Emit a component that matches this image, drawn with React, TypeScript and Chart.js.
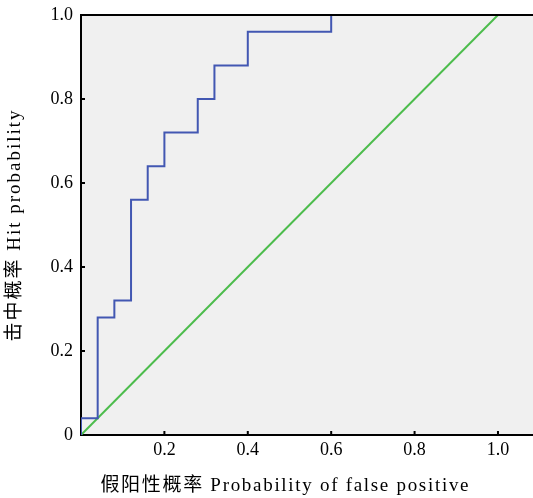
import React, { useEffect, useRef } from "react";
import { Chart, registerables } from "chart.js";

Chart.register(...registerables);

// ROC curve (step points): false positive rate vs hit rate
const rocFpr = [0, 0, 0.04, 0.04, 0.08, 0.08, 0.12, 0.12, 0.16, 0.16, 0.2, 0.2, 0.28, 0.28, 0.32, 0.32, 0.4, 0.4, 0.6, 0.6, 1.0];
const rocTpr = [0, 0.04, 0.04, 0.28, 0.28, 0.32, 0.32, 0.56, 0.56, 0.64, 0.64, 0.72, 0.72, 0.8, 0.8, 0.88, 0.88, 0.96, 0.96, 1.0, 1.0];
// Chance diagonal
const diagX = [0, 1];
const diagY = [0, 1];

const xTicks = [0, 0.2, 0.4, 0.6, 0.8, 1.0];
const yTicks = [0, 0.2, 0.4, 0.6, 0.8, 1.0];
const xTitle = "假阳性概率 Probability of false positive";
const yTitle = "击中概率 Hit probability";

const FONT = "'Liberation Serif', 'Noto Sans CJK SC', serif";

const fmt = (v: number) => (v === 0 ? "0" : v.toFixed(1));

const framePlugin = {
  id: "frame",
  beforeDraw(chart: any) {
    const { ctx, chartArea } = chart;
    ctx.save();
    ctx.fillStyle = "#f0f0f0";
    ctx.fillRect(chartArea.left, chartArea.top, chartArea.right - chartArea.left, chartArea.bottom - chartArea.top);
    ctx.restore();
  },
  afterDraw(chart: any) {
    const { ctx, chartArea, scales } = chart;
    ctx.save();
    ctx.strokeStyle = "#000";
    ctx.lineWidth = 2;
    ctx.beginPath();
    ctx.moveTo(chartArea.left - 1, chartArea.top);
    ctx.lineTo(chartArea.right, chartArea.top);
    ctx.stroke();
    ctx.beginPath();
    xTicks.forEach((v) => {
      if (v === 0) return;
      const px = scales.x.getPixelForValue(v);
      ctx.moveTo(px, chartArea.bottom);
      ctx.lineTo(px, chartArea.bottom - 4);
    });
    yTicks.forEach((v) => {
      if (v === 0 || v === 1) return;
      const py = scales.y.getPixelForValue(v);
      ctx.moveTo(chartArea.left, py);
      ctx.lineTo(chartArea.left + 4, py);
    });
    ctx.stroke();

    // axis titles (drawn here so letter spacing can be applied)
    ctx.fillStyle = "#000";
    ctx.font = `19px ${FONT}`;
    (ctx as any).letterSpacing = "1.7px";
    ctx.textAlign = "center";
    ctx.textBaseline = "middle";
    const xc = scales.x.getPixelForValue(0.49);
    ctx.fillText(xTitle, xc, chartArea.bottom + 51);
    ctx.save();
    ctx.translate(chartArea.left - 66, (chartArea.top + chartArea.bottom) / 2);
    ctx.rotate(-Math.PI / 2);
    (ctx as any).letterSpacing = "2px";
    ctx.fillText(yTitle, 0, 0);
    ctx.restore();
    ctx.restore();
  },
};

export default function App() {
  const ref = useRef<HTMLCanvasElement | null>(null);
  useEffect(() => {
    if (!ref.current) return;
    const chart = new Chart(ref.current, {
      type: "scatter",
      data: {
        datasets: [
          {
            data: rocFpr.map((x, i) => ({ x, y: rocTpr[i] })),
            showLine: true,
            borderColor: "#4257b2",
            borderWidth: 2,
            pointRadius: 0,
            fill: false,
          },
          {
            data: diagX.map((x, i) => ({ x, y: diagY[i] })),
            showLine: true,
            borderColor: "#4cbc4c",
            borderWidth: 2,
            pointRadius: 0,
            fill: false,
          },
        ],
      },
      options: {
        animation: false,
        responsive: false,
        maintainAspectRatio: false,
        layout: { padding: { top: 15, right: 0, left: 0, bottom: 0 } },
        plugins: { legend: { display: false }, tooltip: { enabled: false } },
        scales: {
          x: {
            type: "linear",
            min: 0,
            max: 1.084,
            afterBuildTicks: (s: any) => {
              s.ticks = xTicks.map((value) => ({ value }));
            },
            afterFit: (s: any) => {
              s.height = 63;
              s.paddingLeft = 0;
              s.paddingRight = 0;
            },
            grid: { display: false, drawTicks: false },
            border: { display: true, color: "#000", width: 2 },
            ticks: {
              padding: 4,
              color: "#000",
              font: { family: FONT, size: 18 },
              callback: (v: any) => (Number(v) === 0 ? "" : fmt(Number(v))),
              maxRotation: 0,
              autoSkip: false,
            },
            title: { display: false, text: xTitle },
          },
          y: {
            type: "linear",
            min: 0,
            max: 1,
            afterBuildTicks: (s: any) => {
              s.ticks = yTicks.map((value) => ({ value }));
            },
            afterFit: (s: any) => {
              s.width = 81;
              s.paddingTop = 0;
              s.paddingBottom = 0;
            },
            grid: { display: false, drawTicks: false },
            border: { display: true, color: "#000", width: 2 },
            ticks: {
              padding: 8,
              color: "#000",
              font: { family: FONT, size: 18 },
              callback: (v: any) => fmt(Number(v)),
              autoSkip: false,
            },
            title: { display: false, text: yTitle },
          },
        },
      },
      plugins: [framePlugin],
    });
    return () => chart.destroy();
  }, []);
  return (
    <div style={{ position: "fixed", left: 0, top: 0, width: 533, height: 498, background: "#fff" }}>
      <canvas ref={ref} width={533} height={498} style={{ width: 533, height: 498 }} />
    </div>
  );
}
